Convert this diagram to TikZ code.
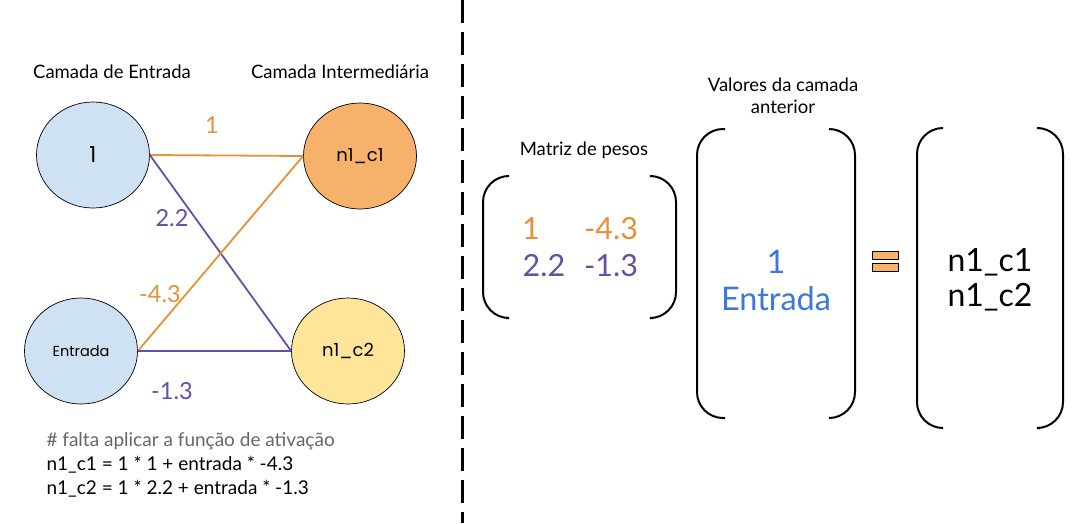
\documentclass[tikz,border=0pt]{standalone}
\usepackage{fontspec}
\setmainfont{Lato}
\newfontfamily\nodefont{Poppins}
\usetikzlibrary{shapes.geometric}

\definecolor{azulclaro}{HTML}{CFE2F3}
\definecolor{laranja}{HTML}{F6B26B}
\definecolor{amarelo}{HTML}{FFE599}
\definecolor{corpeso1}{HTML}{E69138}
\definecolor{corpeso2}{HTML}{674EA7}
\definecolor{cinza}{HTML}{666666}
\definecolor{azulvalor}{HTML}{3C78D8}

\begin{document}
\begin{tikzpicture}[x=1pt,y=-1pt]
\tikzstyle{neuronio}=[ellipse, draw=black, line width=0.7pt, minimum width=113pt, minimum height=106pt, inner sep=0pt, font=\nodefont\fontsize{18}{21}\selectfont]
\tikzstyle{titulo}=[font=\fontsize{18.5}{22}\selectfont]
\tikzstyle{peso}=[font=\fontsize{23.5}{28}\selectfont]
\tikzstyle{formula}=[anchor=west, font=\fontsize{19}{22}\selectfont]
\tikzstyle{chave}=[line width=2pt, rounded corners=26pt]
\tikzstyle{igual}=[fill=laranja, draw=black, line width=0.6pt]
\useasboundingbox (0,0) rectangle (1081,523);
\fill[white] (0,0) rectangle (1081,523);
% separador
\draw [black, line width=3pt, dash pattern=on 23pt off 9pt] (462,0) -- (462,523);
% rede
\node [titulo] (tit_entrada) at (112,72) {Camada de Entrada};
\node [titulo] (tit_inter) at (340,72) {Camada Intermediária};
\node [neuronio, fill=azulclaro, font=\nodefont\fontsize{22}{26}\selectfont] (um) at (93,155) {1};
\node [neuronio, fill=azulclaro, font=\nodefont\fontsize{14.5}{17}\selectfont] (entrada) at (81,351) {Entrada};
\node [neuronio, fill=laranja] (n1c1) at (360,156) {n1\_c1};
\node [neuronio, fill=amarelo] (n1c2) at (348,351) {n1\_c2};
\draw [corpeso1, line width=1.8pt] (um.east) -- (n1c1.west);
\draw [corpeso2, line width=1.8pt] (um.east) -- (n1c2.west);
\draw [corpeso1, line width=1.8pt] (entrada.east) -- (n1c1.west);
\draw [corpeso2, line width=1.8pt] (entrada.east) -- (n1c2.west);
\node [peso, text=corpeso1] (p11) at (212,125) {1};
\node [peso, text=corpeso2] (p12) at (172,218) {2.2};
\node [peso, text=corpeso1] (p21) at (160,294) {-4.3};
\node [peso, text=corpeso2] (p22) at (172,391) {-1.3};
% formulas
\node [formula, text=cinza] (coment) at (43,441) {\# falta aplicar a função de ativação};
\node [formula] (eq1) at (43,465) {n1\_c1 = 1 * 1 + entrada * -4.3};
\node [formula] (eq2) at (43,489) {n1\_c2 = 1 * 2.2 + entrada * -1.3};
% matriz de pesos
\node [titulo] (tit_matriz) at (584,150) {Matriz de pesos};
\draw [chave] (506,176) -- (483,176) -- (483,318) -- (506,318);
\draw [chave] (653,176) -- (676,176) -- (676,318) -- (653,318);
\node [font=\fontsize{30.5}{36}\selectfont, text=corpeso1] (m11) at (531,229) {1};
\node [font=\fontsize{30.5}{36}\selectfont, text=corpeso1] (m12) at (611,229) {-4.3};
\node [font=\fontsize{30.5}{36}\selectfont, text=corpeso2] (m21) at (544,266) {2.2};
\node [font=\fontsize{30.5}{36}\selectfont, text=corpeso2] (m22) at (611,266) {-1.3};
% valores da camada anterior
\node [titulo, align=center] (tit_valores) at (783,96) {Valores da camada\\anterior};
\draw [chave] (725,129) -- (697,129) -- (697,418) -- (725,418);
\draw [chave] (829,129) -- (855,129) -- (855,418) -- (829,418);
\node [font=\fontsize{32.5}{37}\selectfont, text=azulvalor, align=center] (valores) at (776,280) {1\\Entrada};
% igual
\draw [igual] (872,251) rectangle (898,259);
\draw [igual] (872,263) rectangle (898,271);
% resultado
\draw [chave] (942,128) -- (917,128) -- (917,428) -- (942,428);
\draw [chave] (1040,128) -- (1063,128) -- (1063,428) -- (1040,428);
\node [font=\fontsize{32}{35}\selectfont, align=center] (resultado) at (990,280) {n1\_c1\\n1\_c2};
\end{tikzpicture}
\end{document}
